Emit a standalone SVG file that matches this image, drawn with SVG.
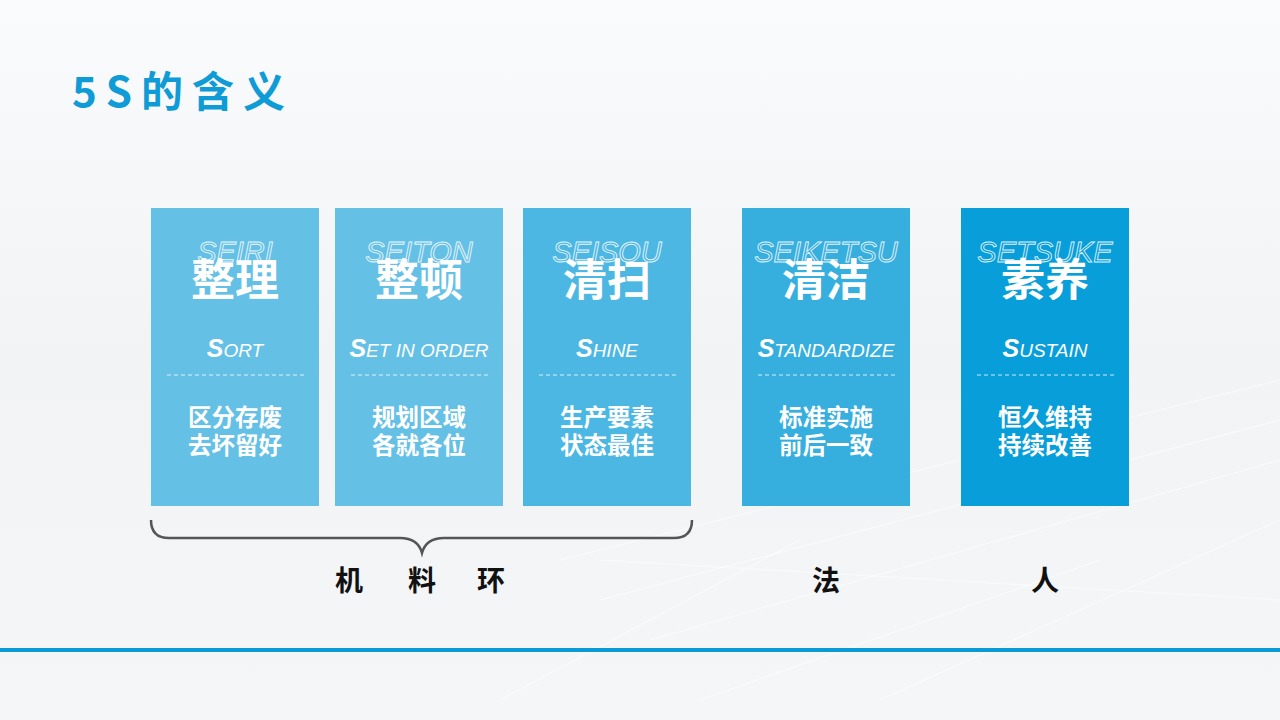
<svg xmlns="http://www.w3.org/2000/svg" width="1280" height="720" viewBox="0 0 1280 720">
<defs>
<linearGradient id="bg" x1="0" y1="0" x2="0" y2="1">
<stop offset="0" stop-color="#f9fbfc"/>
<stop offset="0.5" stop-color="#f1f3f5"/>
<stop offset="1" stop-color="#f5f6f7"/>
</linearGradient>
<style>
.zh{font-family:"Noto Sans CJK SC","Noto Sans",sans-serif;font-weight:bold;fill:#fff;text-anchor:middle}
.big{font-size:44px}
.desc{font-size:23.5px}
.ol{font-family:"Liberation Sans",Arial,sans-serif;font-style:italic;font-size:29px;fill:none;stroke:#fff;stroke-width:0.9;text-anchor:middle;opacity:0.85}
.en{font-family:"Liberation Sans",Arial,sans-serif;font-style:italic;fill:#fff;text-anchor:middle;font-size:19px}
.cap{font-size:25px;font-weight:bold}
.dash{stroke:#fff;stroke-width:1;stroke-dasharray:4 3;opacity:0.8}
.lbl{font-family:"Noto Sans CJK SC","Noto Sans",sans-serif;font-weight:bold;font-size:28px;fill:#111;text-anchor:middle}
.wl{stroke:#fff;stroke-width:1.5;fill:none;opacity:0.45}
</style>
</defs>
<rect width="1280" height="720" fill="url(#bg)"/>
<g id="background-lines">
<path class="wl" d="M560 560 L1280 380"/>
<path class="wl" d="M600 600 L1280 420"/>
<path class="wl" d="M650 640 L1280 460"/>
<path class="wl" d="M700 700 L1100 560"/>
<path class="wl" d="M500 700 L800 540"/>
<path class="wl" d="M880 700 L1280 520"/>
<path class="wl" d="M600 560 L1280 600"/>
</g>
<text x="72" y="107" font-family="Noto Sans CJK SC,Liberation Sans,sans-serif" font-weight="bold" font-size="42" fill="#0E9BD6" letter-spacing="9">5S的含义</text>

<g id="card-seiri">
<rect x="151" y="208" width="168" height="298" fill="#65C0E6"/>
<text class="ol" x="235" y="262">SEIRI</text>
<text class="zh big" x="235" y="296">整理</text>
<text class="en" x="235" y="357"><tspan class="cap">S</tspan>ORT</text>
<line class="dash" x1="167" y1="375" x2="304" y2="375"/>
<text class="zh desc" x="235" y="426">区分存废</text>
<text class="zh desc" x="235" y="454">去坏留好</text>
</g>
<g id="card-seiton">
<rect x="335" y="208" width="168" height="298" fill="#65C0E6"/>
<text class="ol" x="419" y="262">SEITON</text>
<text class="zh big" x="419" y="296">整顿</text>
<text class="en" x="419" y="357"><tspan class="cap">S</tspan>ET IN ORDER</text>
<line class="dash" x1="351" y1="375" x2="488" y2="375"/>
<text class="zh desc" x="419" y="426">规划区域</text>
<text class="zh desc" x="419" y="454">各就各位</text>
</g>
<g id="card-seisou">
<rect x="523" y="208" width="168" height="298" fill="#4DB7E3"/>
<text class="ol" x="607" y="262">SEISOU</text>
<text class="zh big" x="607" y="296">清扫</text>
<text class="en" x="607" y="357"><tspan class="cap">S</tspan>HINE</text>
<line class="dash" x1="539" y1="375" x2="676" y2="375"/>
<text class="zh desc" x="607" y="426">生产要素</text>
<text class="zh desc" x="607" y="454">状态最佳</text>
</g>
<g id="card-seiketsu">
<rect x="742" y="208" width="168" height="298" fill="#36AEDE"/>
<text class="ol" x="826" y="262">SEIKETSU</text>
<text class="zh big" x="826" y="296">清洁</text>
<text class="en" x="826" y="357"><tspan class="cap">S</tspan>TANDARDIZE</text>
<line class="dash" x1="758" y1="375" x2="895" y2="375"/>
<text class="zh desc" x="826" y="426">标准实施</text>
<text class="zh desc" x="826" y="454">前后一致</text>
</g>
<g id="card-setsuke">
<rect x="961" y="208" width="168" height="298" fill="#089ED9"/>
<text class="ol" x="1045" y="262">SETSUKE</text>
<text class="zh big" x="1045" y="296">素养</text>
<text class="en" x="1045" y="357"><tspan class="cap">S</tspan>USTAIN</text>
<line class="dash" x1="977" y1="375" x2="1114" y2="375"/>
<text class="zh desc" x="1045" y="426">恒久维持</text>
<text class="zh desc" x="1045" y="454">持续改善</text>
</g>

<g id="connectors">
<path d="M151 520 Q151 538 169 538 L400 538 Q418 538 422 553 Q426 538 444 538 L674 538 Q692 538 692 520" fill="none" stroke="#555" stroke-width="2.5"/>
</g>
<g id="labels">
<text class="lbl" x="349" y="591">机</text>
<text class="lbl" x="422" y="591">料</text>
<text class="lbl" x="491" y="591">环</text>
<text class="lbl" x="826" y="591">法</text>
<text class="lbl" x="1045" y="591">人</text>
</g>
<rect x="0" y="648" width="1280" height="4" fill="#0A9BD5"/>
</svg>
